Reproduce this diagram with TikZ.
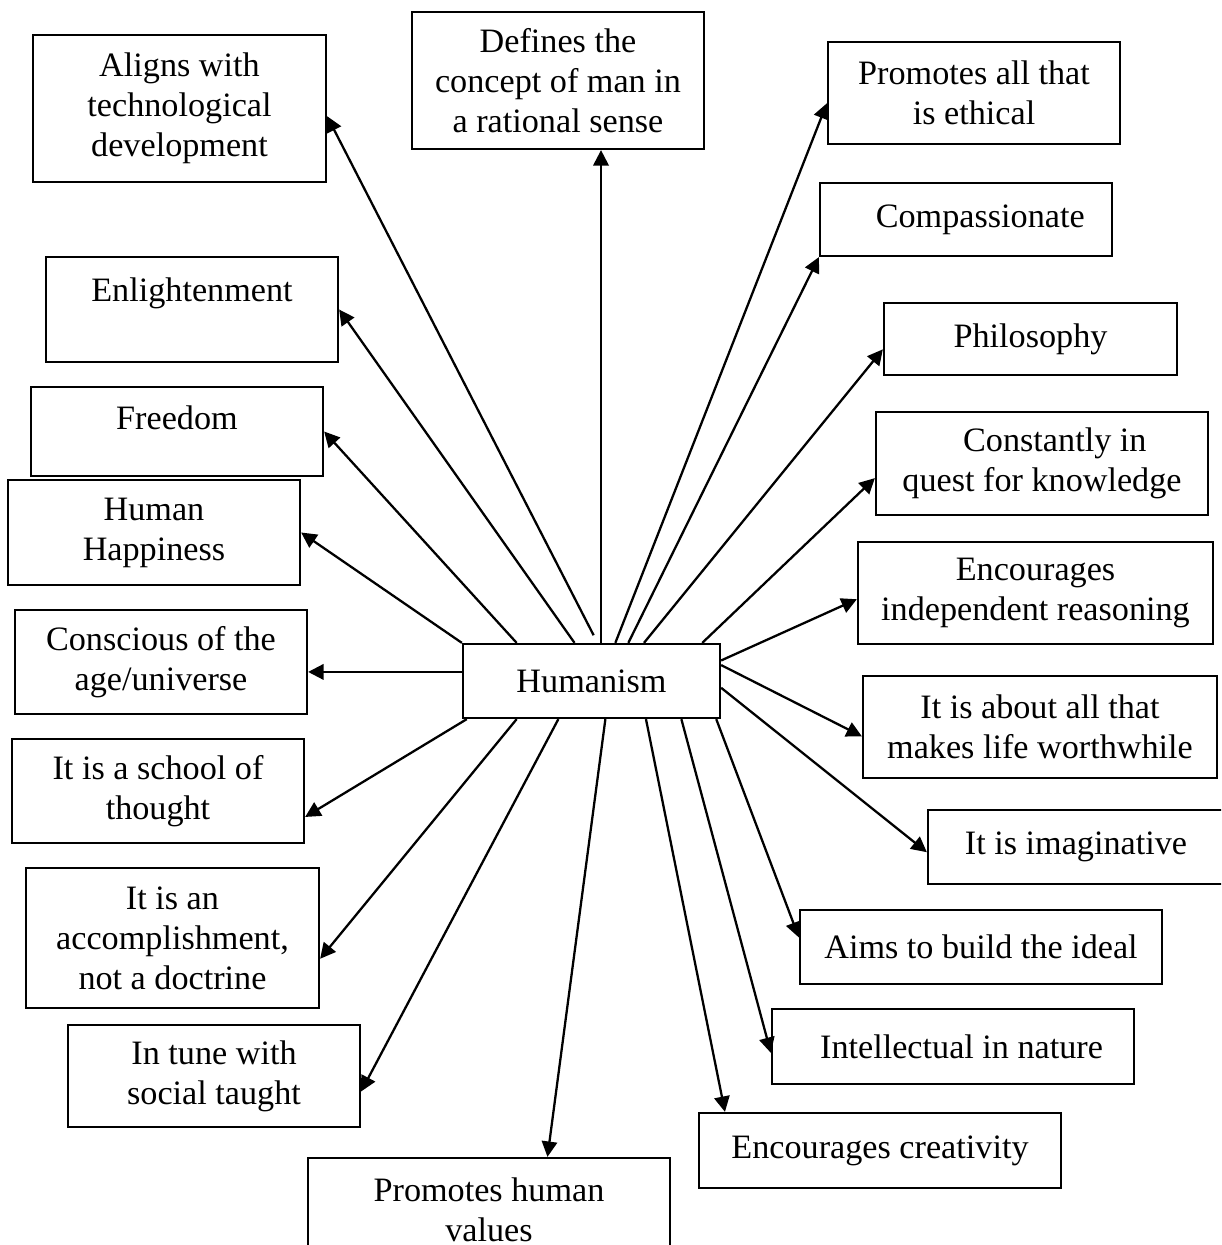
\documentclass[tikz,border=0pt]{standalone}
\usepackage{fontspec}
\setmainfont{Liberation Serif}
\usetikzlibrary{arrows.meta}
\newcommand{\pxu}{0.351pt}

\begin{document}
\begin{tikzpicture}[x=0.351pt, y=-0.351pt,
    box/.style={draw, line width=0.8pt, align=center, inner sep=0pt, font=\fontsize{12}{14}\selectfont},
    dims/.style 2 args={minimum width=#1*\pxu, minimum height=#2*\pxu},
    arr/.style={-{Triangle[length=5.4pt, width=5.4pt]}, line width=0.8pt}
]
    \useasboundingbox (0,0) rectangle (1221,1245);
    \clip (0,0) rectangle (1221,1245);

    % Centre
    \node[box, dims={257}{74}] (hum) at (591.5,681) {Humanism};

    % Top and left
    \node[box, dims={293}{147}] (ali) at (179.5,108.5) {Aligns with\\technological\\development};
    \node[box, dims={292}{137}] (def) at (558,80.5) {Defines the\\concept of man in\\a rational sense};
    \node[box, dims={292}{105}] (enl) at (192,309.5) {Enlightenment\\~};
    \node[box, dims={292}{89}] (fre) at (177,431.5) {Freedom\\[-4pt]~};
    \node[box, dims={292}{105}] (hap) at (154,532.5) {Human\\Happiness};
    \node[box, dims={292}{104}] (con) at (161,662) {Conscious of the\\age/universe};
    \node[box, dims={292}{104}] (sch) at (158,791) {It is a school of\\thought};
    \node[box, dims={293}{140}] (acc) at (172.5,938) {It is an\\accomplishment,\\not a doctrine};
    \node[box, dims={292}{102}] (soc) at (214,1076) {In tune with\\social taught};
    \node[box, dims={362}{103}] (val) at (489,1209.5) {Promotes human\\values};

    % Right
    \node[box, dims={292}{102}] (eth) at (974,93) {Promotes all that\\is ethical};
    \node[box, dims={292}{73}] (com) at (966,219.5) {\hspace*{10pt}Compassionate};
    \node[box, dims={293}{72}] (phi) at (1030.5,339) {Philosophy};
    \node[box, dims={332}{103}] (kno) at (1042,463.5) {\hspace*{9pt}Constantly in\\quest for knowledge};
    \node[box, dims={355}{102}] (rea) at (1035.5,593) {Encourages\\independent reasoning};
    \node[box, dims={354}{102}] (wor) at (1040,727) {It is about all that\\makes life worthwhile};
    \node[box, dims={296}{74}] (ima) at (1076,847) {It is imaginative};
    \node[box, dims={362}{74}] (aim) at (981,947) {Aims to build the ideal};
    \node[box, dims={362}{75}] (int) at (953,1046.5) {\hspace*{6pt}Intellectual in nature};
    \node[box, dims={362}{75}] (cre) at (880,1150.5) {Encourages creativity};

    % Arrows out of the centre
    \draw[arr, shorten <=3pt] (hum.81) -- (ali.-3);
    \draw[arr] (hum.76) -- (hum.76 |- def.south);
    \draw[arr] (hum.114) -- (enl.east);
    \draw[arr] (hum.153) -- (fre.east);
    \draw[arr] (hum.north west) -- (hap.east);
    \draw[arr] (hum.176) -- (hum.176 -| con.east);
    \draw[arr] (hum.197) -- (sch.-10);
    \draw[arr] (hum.207) -- (acc.-8);
    \draw[arr] (hum.-131) -- (soc.-6);
    \draw[arr] (hum.-70) -- (val.42);
    \draw[arr] (hum.58) -- (eth.184);
    \draw[arr] (hum.46) -- (com.south west);
    \draw[arr] (hum.36) -- (phi.184);
    \draw[arr] (hum.19) -- (kno.185);
    \draw[arr] (hum.9) -- (rea.182);
    \draw[arr] (hum.7) -- (wor.183);
    \draw[arr] (hum.-3) -- (ima.182);
    \draw[arr] (hum.-17) -- (aim.177);
    \draw[arr] (hum.-23) -- (int.182);
    \draw[arr] (hum.-35) -- (cre.166);
\end{tikzpicture}
\end{document}
